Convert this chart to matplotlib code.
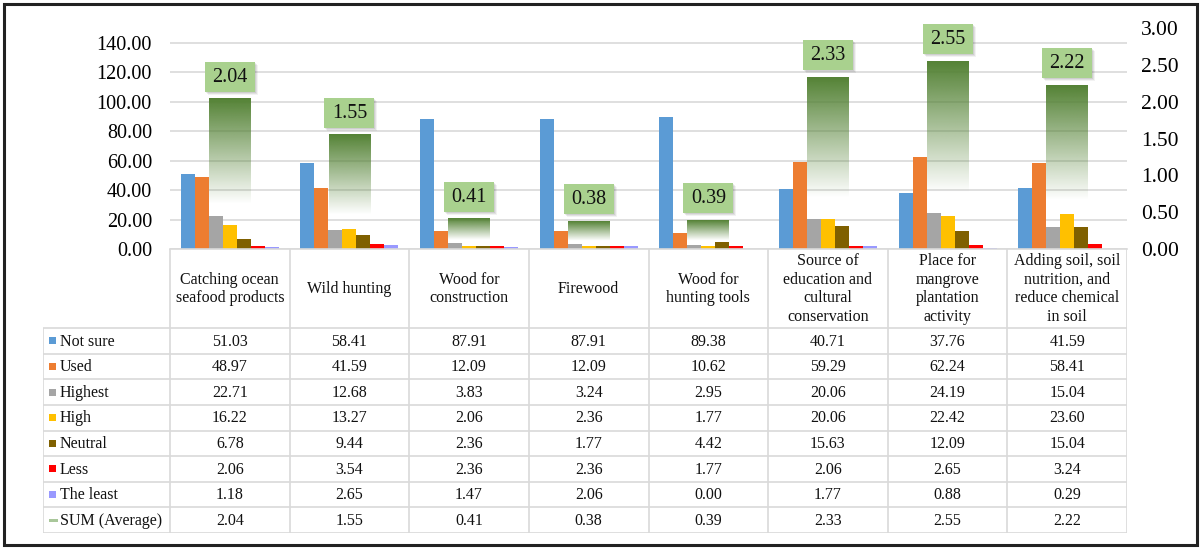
import numpy as np
import matplotlib
matplotlib.use("Agg")
import matplotlib.pyplot as plt
from matplotlib.patches import Rectangle
from matplotlib.colors import to_rgb

plt.rcParams['font.family'] = ['Liberation Serif', 'DejaVu Serif']

categories = ["Catching ocean\nseafood products", "Wild hunting", "Wood for\nconstruction",
              "Firewood", "Wood for\nhunting tools",
              "Source of\neducation and\ncultural\nconservation",
              "Place for\nmangrove\nplantation\nactivity",
              "Adding soil, soil\nnutrition, and\nreduce chemical\nin soil"]
not_sure = [51.03, 58.41, 87.91, 87.91, 89.38, 40.71, 37.76, 41.59]
used = [48.97, 41.59, 12.09, 12.09, 10.62, 59.29, 62.24, 58.41]
highest = [22.71, 12.68, 3.83, 3.24, 2.95, 20.06, 24.19, 15.04]
high = [16.22, 13.27, 2.06, 2.36, 1.77, 20.06, 22.42, 23.60]
neutral = [6.78, 9.44, 2.36, 1.77, 4.42, 15.63, 12.09, 15.04]
less = [2.06, 3.54, 2.36, 2.36, 1.77, 2.06, 2.65, 3.24]
the_least = [1.18, 2.65, 1.47, 2.06, 0.00, 1.77, 0.88, 0.29]
sum_avg = [2.04, 1.55, 0.41, 0.38, 0.39, 2.33, 2.55, 2.22]
series_names = ["Not sure", "Used", "Highest", "High", "Neutral", "Less", "The least"]
sum_name = "SUM (Average)"
left_ticks = [0, 20, 40, 60, 80, 100, 120, 140]
right_ticks = [0.0, 0.5, 1.0, 1.5, 2.0, 2.5, 3.0]

colors = ["#5B9BD5", "#ED7D31", "#A5A5A5", "#FFC000", "#7F6000", "#FF0000", "#9999FF"]
green_top = "#548235"
label_bg = "#A9D18E"
grid_c = "#D9D9D9"

W, H = 1200, 549
fig = plt.figure(figsize=(12, 5.49), dpi=100)

x_left, x_right = 170, 1127
y_top, y_axis = 28, 249
ax = fig.add_axes([x_left / W, 1 - y_axis / H, (x_right - x_left) / W, (y_axis - y_top) / H])
n = len(categories)
x = np.arange(n)
ax.set_xlim(-0.5, n - 0.5)
ax.set_ylim(0, 150)
ax.set_yticks(left_ticks)
ax.set_yticklabels([f"{v:.2f}" for v in left_ticks], fontsize=14.5)
ax.set_xticks([])
ax.tick_params(axis='y', length=0, pad=13)
for s in ['top', 'left', 'right']:
    ax.spines[s].set_visible(False)
ax.spines['bottom'].set_color(grid_c)
ax.spines['bottom'].set_linewidth(1.2)
ax.yaxis.grid(True, color=grid_c, linewidth=1.2)
ax.set_axisbelow(True)

series = [not_sure, used, highest, high, neutral, less, the_least]
bw = 0.117
for i, (vals, c) in enumerate(zip(series, colors)):
    ax.bar(x + (i - 3) * bw, vals, width=bw, color=c, zorder=2)

ax2 = ax.twinx()
ax2.set_ylim(0, 3)
ax2.set_yticks(right_ticks)
ax2.set_yticklabels([f"{v:.2f}" for v in right_ticks], fontsize=15.5)
ax2.tick_params(axis='y', length=0, pad=10)
for s in ax2.spines.values():
    s.set_visible(False)

sum_bars = ax2.bar(x, sum_avg, width=0.35, color='none', edgecolor='none')
rgb = np.array(to_rgb(green_top))
t = np.linspace(0, 1, 256)
alpha = np.clip((t - 0.3) / 0.7, 0, 1)
grad = np.zeros((256, 1, 4))
grad[:, 0, :3] = rgb
grad[:, 0, 3] = alpha
for p in sum_bars:
    x0 = p.get_x()
    ax2.imshow(grad, extent=(x0, x0 + p.get_width(), 0, p.get_height()),
               origin='lower', aspect='auto', zorder=1, interpolation='bilinear')
ax2.set_xlim(-0.5, n - 0.5)
ax2.set_ylim(0, 3)

# label boxes (sizes in pixels converted to data units)
col_w = (x_right - x_left) / n
ypx = 3.0 / (y_axis - y_top)
bx_w, bx_h, gap = 50 / col_w, 30 * ypx, 7 * ypx
for xi, v in zip(x, sum_avg):
    b0 = v + gap
    for k, a in ((3, 0.05), (2, 0.07), (1, 0.08)):
        ax2.add_patch(Rectangle((xi - bx_w / 2 + k / col_w, b0 - k * ypx), bx_w, bx_h,
                                fc='#000000', alpha=a, ec='none', zorder=3, clip_on=False))
    ax2.add_patch(Rectangle((xi - bx_w / 2, b0), bx_w, bx_h, fc=label_bg, ec='none',
                            zorder=4, clip_on=False))
    ax2.text(xi, b0 + bx_h / 2 - 0.5 * ypx, f"{v:.2f}", ha='center', va='center',
             fontsize=14.5, color='#111111', zorder=5, clip_on=False)

# ---- data table ----
tab_left, tab_bottom = 43, 533
lg = (x_left - tab_left) / col_w
header_px = 328 - y_axis
row_px = (tab_bottom - 328) / 8
hdr = header_px / row_px
nrows = 8
total = hdr + nrows
tab = fig.add_axes([tab_left / W, 1 - tab_bottom / H, (x_right - tab_left) / W, (tab_bottom - y_axis) / H])
tab.set_xlim(-0.5 - lg, n - 0.5)
tab.set_ylim(total, 0)
tab.axis('off')
lc = grid_c
lw = 1.2
for k in range(nrows + 1):
    tab.plot([-0.5 - lg, n - 0.5], [hdr + k, hdr + k], color=lc, lw=lw, solid_capstyle='butt')
for j in range(n + 1):
    tab.plot([-0.5 + j, -0.5 + j], [0, total], color=lc, lw=lw, solid_capstyle='butt')
tab.plot([-0.5 - lg, -0.5 - lg], [hdr, total], color=lc, lw=lw, solid_capstyle='butt')

fs = 11.5
for j, cat in enumerate(categories):
    tab.text(j, hdr / 2 + 0.02, cat, ha='center', va='center', fontsize=fs, linespacing=1.22,
             color='#111111')
all_rows = series + [sum_avg]
names = series_names + [sum_name]
pxx = 1 / col_w
for r, (vals, name) in enumerate(zip(all_rows, names)):
    yc = hdr + r + 0.5
    for j, v in enumerate(vals):
        tab.text(j, yc + 0.03, f"{v:.2f}", ha='center', va='center', fontsize=fs, color='#111111')
    tab.text(-0.5 - lg + 17 * pxx, yc + 0.03, name, ha='left', va='center', fontsize=fs, color='#111111')
    kx = -0.5 - lg + 6 * pxx
    if r < len(series):
        tab.add_patch(Rectangle((kx, yc - 3.5 / row_px), 7 * pxx, 7 / row_px,
                                color=colors[r], lw=0))
    else:
        tab.add_patch(Rectangle((kx, yc - 1.5 / row_px), 9 * pxx, 3 / row_px,
                                color='#A9C79A', lw=0))

fig.add_artist(Rectangle((4 / W, 1 - 545 / H), (1197 - 4) / W, (545 - 4) / H,
                         transform=fig.transFigure, fill=False, ec='#222222', lw=2.2))

fig.savefig("out.png", dpi=100, facecolor='white')
